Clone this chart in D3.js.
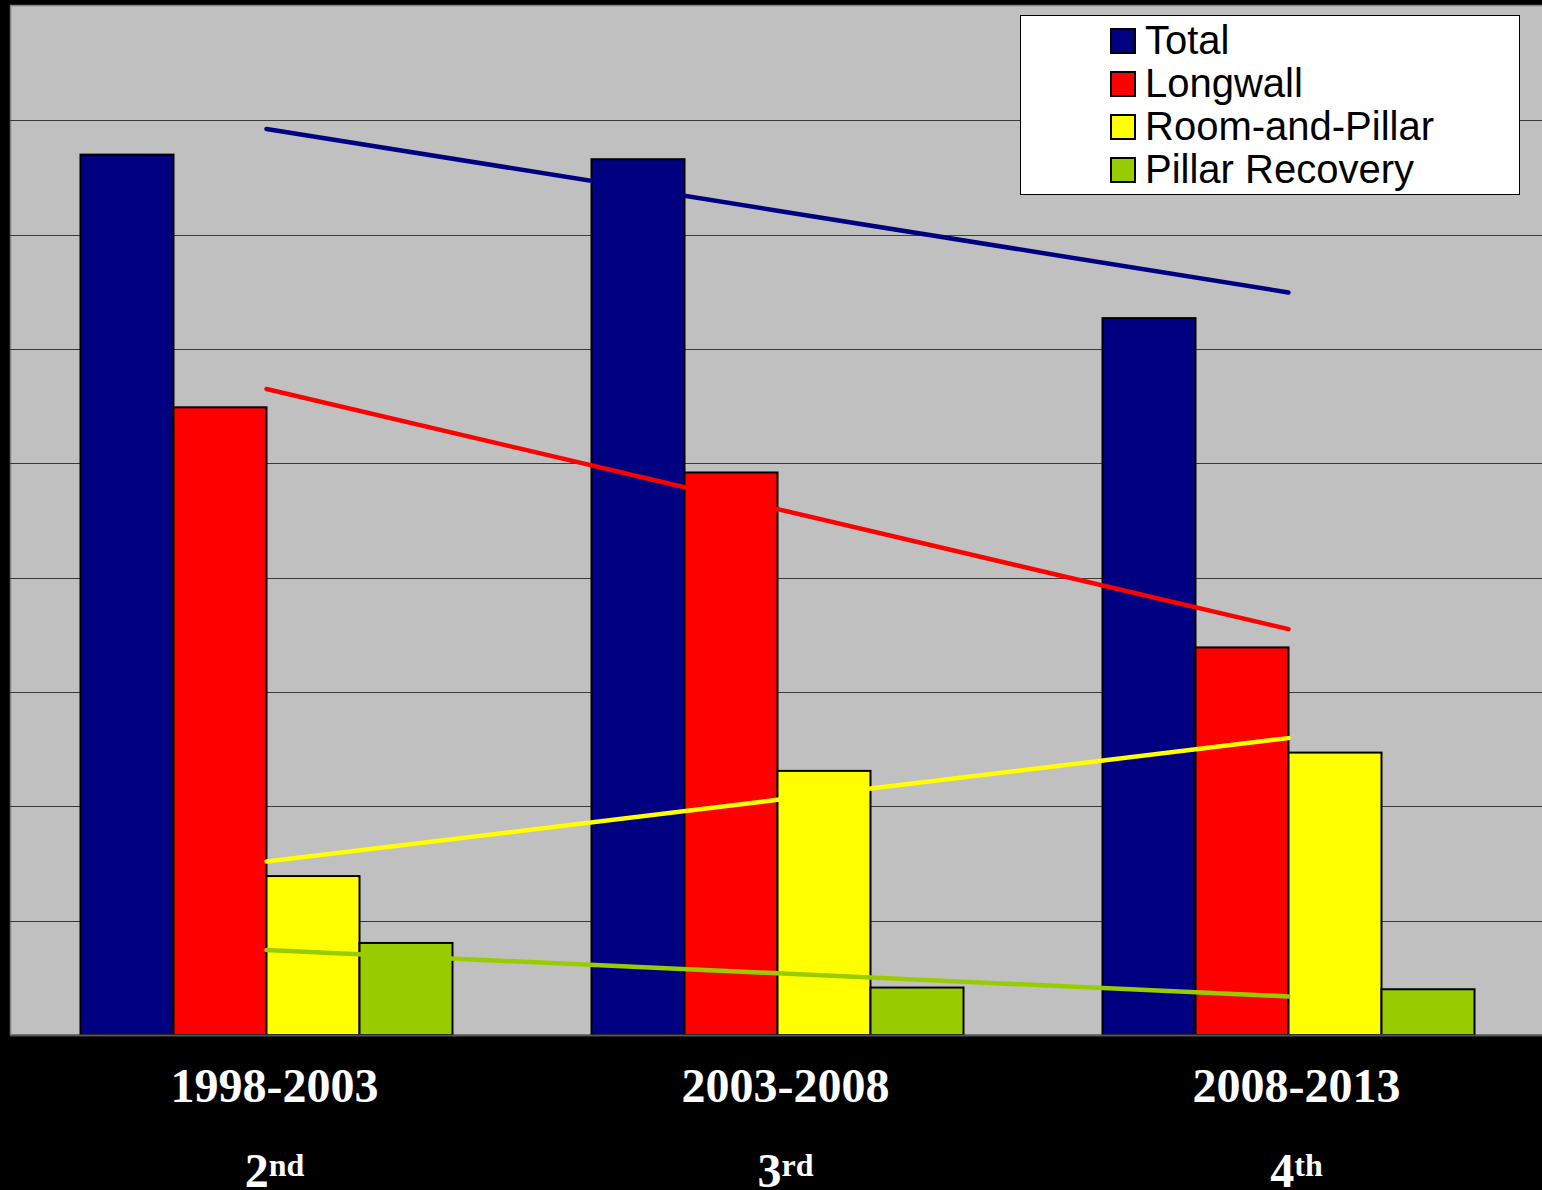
<!DOCTYPE html>
<html>
<head>
<meta charset="utf-8">
<script src="https://cdn.jsdelivr.net/npm/d3@7"></script>
<style>
  html, body { margin: 0; padding: 0; background: #000; }
  svg { display: block; }
</style>
</head>
<body>
<script>
// Mining periods and their ordinal labels
const periods = ["1998-2003", "2003-2008", "2008-2013"];
const ordinals = [["2", "nd"], ["3", "rd"], ["4", "th"]];

// Series (one value per period)
const seriesNames = ["Total", "Longwall", "Room-and-Pillar", "Pillar Recovery"];
const seriesColors = ["#000080", "#FF0000", "#FFFF00", "#99CC00"];
const total = [77.0, 76.6, 62.7];
const longwall = [54.9, 49.2, 33.9];
const roomAndPillar = [13.9, 23.1, 24.7];
const pillarRecovery = [8.05, 4.15, 4.0];

// Value-axis gridline positions
const gridTicks = [10, 20, 30, 40, 50, 60, 70, 80];

const seriesValues = [total, longwall, roomAndPillar, pillarRecovery];

const W = 1542, H = 1190;
const plot = { left: 10, top: 6, right: 1544, bottom: 1035 };

const svg = d3.select("body").append("svg")
  .attr("width", W).attr("height", H);

svg.append("rect").attr("width", W).attr("height", H).attr("fill", "#000");

// Scales
const x0 = d3.scaleBand().domain(periods)
  .range([plot.left + 1, plot.right])
  .paddingInner(0.272).paddingOuter(0.136);
const x1 = d3.scaleBand().domain(seriesNames).range([0, x0.bandwidth()]);
const y = d3.scaleLinear().domain([0, 90]).range([plot.bottom, plot.top]);

// Plot area
svg.append("rect")
  .attr("x", plot.left + 0.5).attr("y", plot.top - 0.5)
  .attr("width", W - plot.left + 5).attr("height", plot.bottom - plot.top + 0.5)
  .attr("fill", "#C0C0C0").attr("stroke", "#808080").attr("stroke-width", 1.5);

// Gridlines
svg.append("g").selectAll("line").data(gridTicks).join("line")
  .attr("x1", plot.left).attr("x2", W)
  .attr("y1", d => Math.round(y(d)) + 0.5).attr("y2", d => Math.round(y(d)) + 0.5)
  .attr("stroke", "#3a3a3a").attr("stroke-width", 1.2);

// Bars
const groups = svg.append("g").selectAll("g").data(periods).join("g")
  .attr("transform", d => `translate(${x0(d)},0)`);

groups.selectAll("rect")
  .data((p, i) => seriesNames.map((s, k) => ({ s, k, v: seriesValues[k][i] })))
  .join("rect")
  .attr("x", d => x1(d.s))
  .attr("y", d => y(d.v))
  .attr("width", x1.bandwidth())
  .attr("height", d => y(0) - y(d.v))
  .attr("fill", d => seriesColors[d.k])
  .attr("stroke", "#000").attr("stroke-width", 2);

// Axis baseline
svg.append("line")
  .attr("x1", plot.left).attr("x2", W)
  .attr("y1", plot.bottom + 0.5).attr("y2", plot.bottom + 0.5)
  .attr("stroke", "#555").attr("stroke-width", 2);

// Linear least-squares trend lines across the periods
function linearFit(vals) {
  const n = vals.length;
  const xs = d3.range(n);
  const mx = d3.mean(xs), my = d3.mean(vals);
  const num = d3.sum(xs, (xv, i) => (xv - mx) * (vals[i] - my));
  const den = d3.sum(xs, xv => (xv - mx) * (xv - mx));
  const slope = num / den;
  return xs.map(xv => my + slope * (xv - mx));
}

const center = p => x0(p) + x0.bandwidth() / 2;
const trendLine = d3.line().x((d, i) => center(periods[i])).y(d => y(d));

svg.append("g").selectAll("path").data(seriesValues).join("path")
  .attr("d", vals => trendLine(linearFit(vals)))
  .attr("fill", "none")
  .attr("stroke", (d, k) => seriesColors[k])
  .attr("stroke-width", 4.5)
  .attr("stroke-linecap", "round");

// Category labels
const labelOffset = 8;
svg.append("g").selectAll("text").data(periods).join("text")
  .attr("x", d => center(d) + labelOffset)
  .attr("y", 1102)
  .attr("text-anchor", "middle")
  .attr("fill", "#fff")
  .attr("font-family", "'Liberation Serif', 'Times New Roman', serif")
  .attr("font-weight", "bold")
  .attr("font-size", 48)
  .text(d => d);

const ord = svg.append("g").selectAll("text").data(periods).join("text")
  .attr("x", d => center(d) + labelOffset)
  .attr("y", 1187)
  .attr("text-anchor", "middle")
  .attr("fill", "#fff")
  .attr("font-family", "'Liberation Serif', 'Times New Roman', serif")
  .attr("font-weight", "bold")
  .attr("font-size", 48);
ord.append("tspan").text((d, i) => ordinals[i][0]);
ord.append("tspan").attr("font-size", 32).attr("dy", -11).text((d, i) => ordinals[i][1]);

// Legend
const legend = svg.append("g");
legend.append("rect")
  .attr("x", 1020.5).attr("y", 15.5).attr("width", 499).attr("height", 179)
  .attr("fill", "#fff").attr("stroke", "#000").attr("stroke-width", 1);

const items = legend.selectAll("g").data(seriesNames).join("g")
  .attr("transform", (d, i) => `translate(0,${i * 43})`);
items.append("rect")
  .attr("x", 1111).attr("y", 29).attr("width", 24).attr("height", 24)
  .attr("fill", (d, i) => seriesColors[i])
  .attr("stroke", "#000").attr("stroke-width", 2);
items.append("text")
  .attr("x", 1145).attr("y", 54)
  .attr("font-family", "'Liberation Sans', Arial, sans-serif")
  .attr("font-size", 40)
  .attr("fill", "#000")
  .text(d => d);
</script>
</body>
</html>
